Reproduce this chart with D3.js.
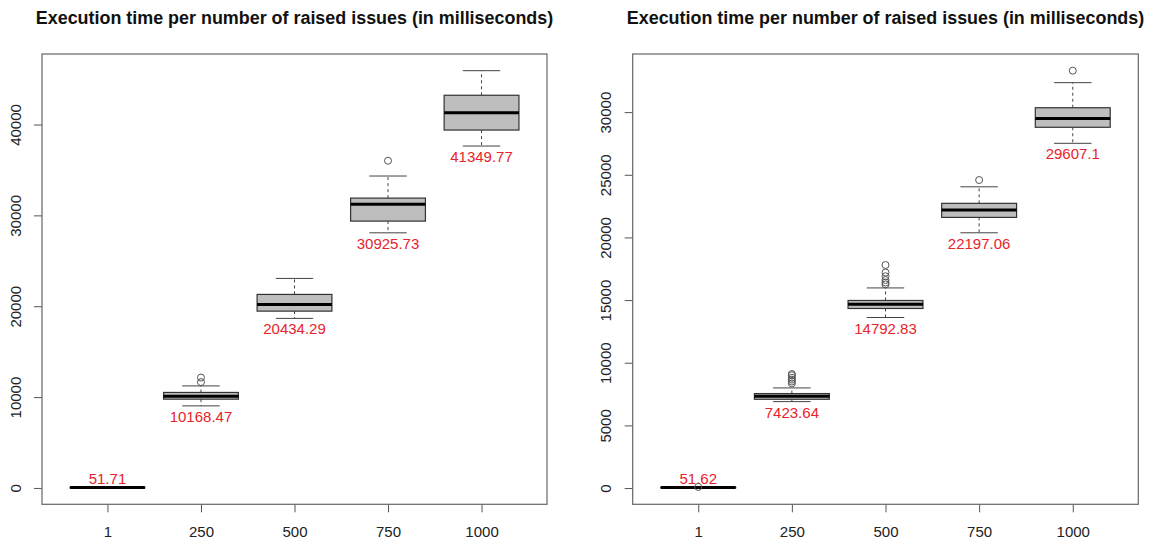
<!DOCTYPE html>
<html>
<head>
<meta charset="utf-8">
<script src="https://cdn.jsdelivr.net/npm/d3@7"></script>
<style>
  html, body { margin: 0; padding: 0; background: #fff; }
  svg { display: block; font-family: "Liberation Sans", Arial, sans-serif; }
</style>
</head>
<body>
<svg id="chart" width="1153" height="542"></svg>
<script>
// ---------- data ----------
const categories = ["1", "250", "500", "750", "1000"];
const chartTitle = "Execution time per number of raised issues (in milliseconds)";

// left panel
const leftMeans        = [51.71, 10168.47, 20434.29, 30925.73, 41349.77];
const leftWhiskerLow   = [35, 9030, 18660, 28080, 37630];
const leftQ1           = [45, 9770, 19460, 29370, 39390];
const leftMedian       = [51, 10100, 20200, 31210, 41300];
const leftQ3           = [58, 10510, 21300, 31900, 43220];
const leftWhiskerHigh  = [70, 11230, 23060, 34330, 45925];
const leftOutliers     = [[], [11650, 12150], [], [36010], []];
const leftTicks        = [0, 10000, 20000, 30000, 40000];

// right panel
const rightMeans       = [51.62, 7423.64, 14792.83, 22197.06, 29607.1];
const rightWhiskerLow  = [35, 6900, 13610, 20370, 27510];
const rightQ1          = [45, 7085, 14330, 21600, 28790];
const rightMedian      = [51, 7330, 14670, 22180, 29500];
const rightQ3          = [58, 7540, 14970, 22720, 30350];
const rightWhiskerHigh = [70, 7990, 15970, 24040, 32350];
const rightOutliers    = [[90], [8350, 8500, 8650, 8800, 9000, 9100], [16250, 16400, 16600, 16900, 17200, 17800], [24580], [33307]];
const rightTicks       = [0, 5000, 10000, 15000, 20000, 25000, 30000];

// ---------- drawing ----------
const svg = d3.select("#chart");

function drawPanel(cfg) {
  const { left, right, top, bottom, means, lo, q1, med, q3, hi, outliers, ticks, labelX } = cfg;
  const g = svg.append("g");

  const allVals = [].concat(lo, hi, ...outliers);
  const [mn, mx] = d3.extent(allVals);
  const ext = (mx - mn) * 0.04;
  const y = d3.scaleLinear().domain([mn - ext, mx + ext]).range([bottom, top]);
  const x = d3.scaleLinear().domain([0.3, 5.7]).range([left, right]);
  const bw = 0.8, cw = 0.4;

  // title
  const t = g.append("text")
    .attr("x", (left + right) / 2).attr("y", 23.5)
    .attr("text-anchor", "middle")
    .attr("font-weight", "bold").attr("font-size", 15).attr("fill", "#111")
    .text(chartTitle);
  const w = t.node().getComputedTextLength();
  t.attr("font-size", 15 * 518 / w);

  // y axis
  const yAxis = d3.axisLeft(y).tickValues(ticks).tickSize(8).tickFormat(d3.format("d"));
  const ya = g.append("g").attr("transform", `translate(${left},0)`).call(yAxis);
  ya.select(".domain").remove();
  ya.selectAll(".tick line").attr("stroke", "#555");
  ya.selectAll(".tick text")
    .attr("font-size", 15).attr("fill", "#222")
    .attr("font-family", "Liberation Sans, Arial, sans-serif")
    .attr("text-anchor", "middle")
    .attr("x", null).attr("dy", null)
    .attr("transform", d => `translate(${labelX - left},0) rotate(-90)`);

  // x axis
  const xAxis = d3.axisBottom(x).tickValues([1, 2, 3, 4, 5]).tickSize(8)
    .tickFormat((d, i) => categories[i]);
  const xa = g.append("g").attr("transform", `translate(0,${bottom})`).call(xAxis);
  xa.select(".domain").remove();
  xa.selectAll(".tick line").attr("stroke", "#555");
  xa.selectAll(".tick text")
    .attr("font-size", 15).attr("fill", "#222")
    .attr("font-family", "Liberation Sans, Arial, sans-serif")
    .attr("dy", null).attr("y", 33);

  // frame
  g.append("rect").attr("x", left).attr("y", top)
    .attr("width", right - left).attr("height", bottom - top)
    .attr("fill", "none").attr("stroke", "#666").attr("stroke-width", 1.2);

  const idx = d3.range(categories.length);
  const boxes = g.selectAll("g.box").data(idx).join("g").attr("class", "box");

  // whiskers
  boxes.append("line")
    .attr("x1", i => x(i + 1)).attr("x2", i => x(i + 1))
    .attr("y1", i => y(q3[i])).attr("y2", i => y(hi[i]))
    .attr("stroke", "#444").attr("stroke-dasharray", "3,3");
  boxes.append("line")
    .attr("x1", i => x(i + 1)).attr("x2", i => x(i + 1))
    .attr("y1", i => y(q1[i])).attr("y2", i => y(lo[i]))
    .attr("stroke", "#444").attr("stroke-dasharray", "3,3");
  // caps
  boxes.append("line")
    .attr("x1", i => x(i + 1 - cw / 2)).attr("x2", i => x(i + 1 + cw / 2))
    .attr("y1", i => y(hi[i])).attr("y2", i => y(hi[i]))
    .attr("stroke", "#444");
  boxes.append("line")
    .attr("x1", i => x(i + 1 - cw / 2)).attr("x2", i => x(i + 1 + cw / 2))
    .attr("y1", i => y(lo[i])).attr("y2", i => y(lo[i]))
    .attr("stroke", "#444");
  // box
  boxes.append("rect")
    .attr("x", i => x(i + 1 - bw / 2)).attr("width", x(1 + bw) - x(1))
    .attr("y", i => y(q3[i])).attr("height", i => Math.max(y(q1[i]) - y(q3[i]), 0.5))
    .attr("fill", "#bebebe").attr("stroke", "#333").attr("stroke-width", 1.2);
  // median
  boxes.append("line")
    .attr("x1", i => x(i + 1 - bw / 2)).attr("x2", i => x(i + 1 + bw / 2))
    .attr("y1", i => y(med[i])).attr("y2", i => y(med[i]))
    .attr("stroke", "#000").attr("stroke-width", 3);

  // outliers
  const pts = [];
  outliers.forEach((arr, i) => arr.forEach(v => pts.push({ i, v })));
  g.selectAll("circle.out").data(pts).join("circle").attr("class", "out")
    .attr("cx", d => x(d.i + 1)).attr("cy", d => y(d.v)).attr("r", 3.5)
    .attr("fill", "none").attr("stroke", "#555").attr("stroke-width", 1);

  // mean labels
  boxes.append("text")
    .attr("x", i => x(i + 1))
    .attr("y", i => i === 0 ? y(hi[i]) - 3 : y(lo[i]) + 16)
    .attr("text-anchor", "middle")
    .attr("font-size", 15).attr("fill", "#e8232b")
    .text(i => String(means[i]));
}

drawPanel({
  left: 42, right: 547, top: 54, bottom: 504.3, labelX: 21,
  means: leftMeans, lo: leftWhiskerLow, q1: leftQ1, med: leftMedian, q3: leftQ3,
  hi: leftWhiskerHigh, outliers: leftOutliers, ticks: leftTicks
});
drawPanel({
  left: 632.7, right: 1138.3, top: 54, bottom: 504.3, labelX: 611,
  means: rightMeans, lo: rightWhiskerLow, q1: rightQ1, med: rightMedian, q3: rightQ3,
  hi: rightWhiskerHigh, outliers: rightOutliers, ticks: rightTicks
});
</script>
</body>
</html>
